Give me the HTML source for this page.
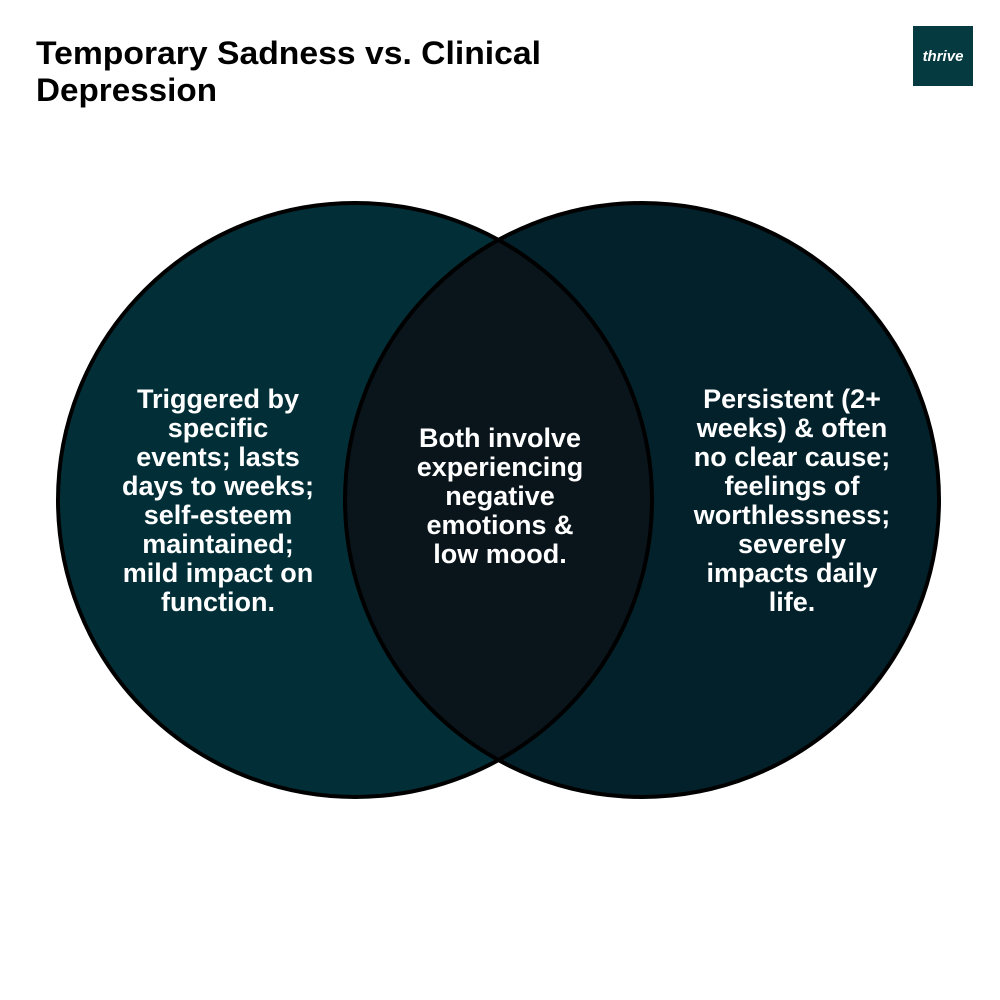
<!DOCTYPE html>
<html><head><meta charset="utf-8"><style>
html,body{margin:0;padding:0;background:#fff;}
svg{display:block;}
text{font-family:"Liberation Sans",sans-serif;font-weight:bold;}
</style></head><body>
<svg width="1000" height="1000" viewBox="0 0 1000 1000" xmlns="http://www.w3.org/2000/svg">
<rect width="1000" height="1000" fill="#fff"/>
<text x="36" y="64" font-size="32" fill="#000" textLength="505" lengthAdjust="spacingAndGlyphs">Temporary Sadness vs. Clinical</text>
<text x="36" y="101" font-size="32" fill="#000" textLength="181" lengthAdjust="spacingAndGlyphs">Depression</text>
<rect x="913" y="26" width="60" height="60" fill="#043a40"/>
<text x="943" y="61" font-size="15" font-style="italic" fill="#fff" text-anchor="middle">thrive</text>
<defs><clipPath id="cl"><circle cx="355" cy="500" r="297"/></clipPath></defs>
<circle cx="355" cy="500" r="297" fill="#022f37"/>
<circle cx="642" cy="500" r="297" fill="#03212a"/>
<circle cx="642" cy="500" r="297" fill="#0a141b" clip-path="url(#cl)"/>
<circle cx="355" cy="500" r="297" fill="none" stroke="#000" stroke-width="4"/>
<circle cx="642" cy="500" r="297" fill="none" stroke="#000" stroke-width="4"/>
<g fill="#fff" font-size="27" text-anchor="middle">
<text x="218" y="408">Triggered by</text>
<text x="218" y="437">specific</text>
<text x="218" y="466">events; lasts</text>
<text x="218" y="495">days to weeks;</text>
<text x="218" y="524">self-esteem</text>
<text x="218" y="553">maintained;</text>
<text x="218" y="582">mild impact on</text>
<text x="218" y="611">function.</text>
<text x="500" y="447">Both involve</text>
<text x="500" y="476">experiencing</text>
<text x="500" y="505">negative</text>
<text x="500" y="534">emotions &amp;</text>
<text x="500" y="563">low mood.</text>
<text x="792" y="408">Persistent (2+</text>
<text x="792" y="437">weeks) &amp; often</text>
<text x="792" y="466">no clear cause;</text>
<text x="792" y="495">feelings of</text>
<text x="792" y="524">worthlessness;</text>
<text x="792" y="553">severely</text>
<text x="792" y="582">impacts daily</text>
<text x="792" y="611">life.</text>
</g>
</svg>
</body></html>
